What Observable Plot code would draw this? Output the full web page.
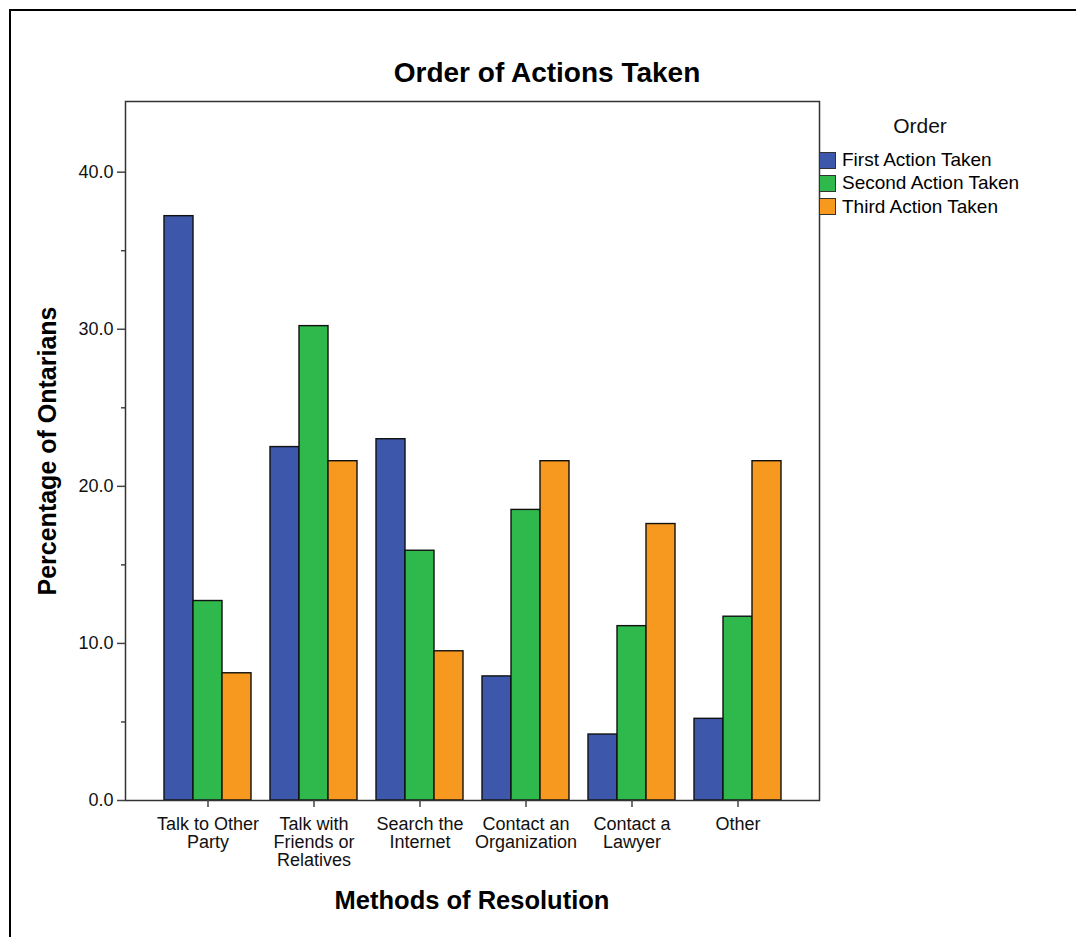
<!DOCTYPE html>
<html>
<head>
<meta charset="utf-8">
<script src="https://cdn.jsdelivr.net/npm/d3@7"></script>
<script src="https://cdn.jsdelivr.net/npm/@observablehq/plot@0.6"></script>
<style>
  body { margin: 0; background: #fff; font-family: "Liberation Sans", Arial, sans-serif; }
  #wrap { position: relative; width: 1076px; height: 937px; overflow: hidden; }
  #box { position: absolute; left: 9px; top: 9px; width: 1100px; height: 1000px; border: 2px solid #000; }
  #chart { position: absolute; left: 0; top: 0; }
  .t { position: absolute; color: #000; white-space: nowrap; }
  #title { left: 547px; top: 73px; font-size: 28px; font-weight: bold; transform: translate(-50%, -50%); }
  #ylabel { left: 47px; top: 451px; font-size: 25px; font-weight: bold; transform: translate(-50%, -50%) rotate(-90deg); }
  #xlabel { left: 472px; top: 900px; font-size: 25.5px; font-weight: bold; transform: translate(-50%, -50%); }
  #legtitle { left: 920px; top: 126px; font-size: 21px; color: #111; transform: translate(-50%, -50%); }
  .leg { position: absolute; left: 819px; font-size: 19px; color: #000; display: flex; align-items: center; transform: translateY(-50%); }
  .sw { width: 17px; height: 17px; border: 1.5px solid #333; margin-right: 6px; box-sizing: border-box; }
</style>
</head>
<body>
<div id="wrap">
  <div id="box"></div>
  <div id="chart"></div>
  <div class="t" id="title">Order of Actions Taken</div>
  <div class="t" id="ylabel">Percentage of Ontarians</div>
  <div class="t" id="xlabel">Methods of Resolution</div>
  <div class="t" id="legtitle">Order</div>
  <div id="legend"></div>
</div>
<script>
const categories = ["Talk to Other Party", "Talk with Friends or Relatives", "Search the Internet", "Contact an Organization", "Contact a Lawyer", "Other"];
const tickLabels = ["Talk to Other\nParty", "Talk with\nFriends or\nRelatives", "Search the\nInternet", "Contact an\nOrganization", "Contact a\nLawyer", "Other"];
const series = ["First Action Taken", "Second Action Taken", "Third Action Taken"];
const firstValues = [37.2, 22.5, 23.0, 7.9, 4.2, 5.2];
const secondValues = [12.7, 30.2, 15.9, 18.5, 11.1, 11.7];
const thirdValues = [8.1, 21.6, 9.5, 21.6, 17.6, 21.6];
const colors = ["#3D57AB", "#2FB84B", "#F7991E"];
const majorTicks = [0, 10, 20, 30, 40];
const minorTicks = [5, 15, 25, 35];

const valueSets = [firstValues, secondValues, thirdValues];
const data = [];
series.forEach((s, si) => categories.forEach((c, ci) => data.push({method: c, order: s, value: valueSets[si][ci]})));
const labelOf = new Map(categories.map((c, i) => [c, tickLabels[i]]));

const barW = 29;
const barMarks = series.map((s, si) => Plot.barY(data.filter(d => d.order === s), {
  x: "method", y: "value", fill: colors[si], stroke: "#111", strokeWidth: 1.4,
  dx: (si - 1) * barW
}));

const chart = Plot.plot({
  width: 1076, height: 937,
  marginLeft: 125, marginRight: 257, marginTop: 101, marginBottom: 137,
  style: {fontFamily: "'Liberation Sans', Arial, sans-serif", background: "transparent", overflow: "visible"},
  x: {type: "band", domain: categories, paddingInner: 0.727, paddingOuter: 0.625, axis: null},
  y: {domain: [0, 44.5], axis: null},
  marks: [
    ...barMarks,
    Plot.frame({stroke: "#333", strokeWidth: 1.5}),
    Plot.axisY(majorTicks, {anchor: "left", tickSize: 8, tickPadding: 4, tickFormat: d => d.toFixed(1), fontSize: 18, stroke: "#444", fill: "#111", strokeWidth: 1.5, label: null}),
    Plot.axisY(minorTicks, {anchor: "left", tickSize: 4, tickFormat: null, text: null, stroke: "#444", strokeWidth: 1.5, label: null}),
    Plot.axisX(categories, {anchor: "bottom", tickSize: 7, tickPadding: 10, tickFormat: d => labelOf.get(d), fontSize: 18, lineHeight: 1.0, stroke: "#444", fill: "#111", strokeWidth: 1.5, label: null})
  ]
});
document.getElementById("chart").appendChild(chart);

const legend = document.getElementById("legend");
series.forEach((s, i) => {
  const row = document.createElement("div");
  row.className = "leg";
  row.style.top = (160 + i * 23.3) + "px";
  const sw = document.createElement("div");
  sw.className = "sw";
  sw.style.background = colors[i];
  row.appendChild(sw);
  row.appendChild(document.createTextNode(s));
  legend.appendChild(row);
});
</script>
</body>
</html>
